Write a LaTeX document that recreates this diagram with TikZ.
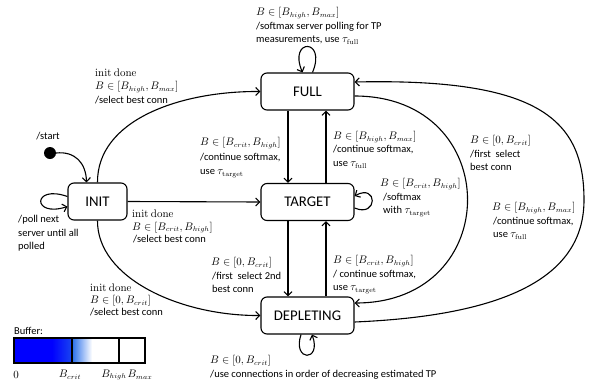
\documentclass[tikz,border=0pt]{standalone}
\usepackage[no-math]{fontspec}
\setmainfont{Carlito}
\usetikzlibrary{arrows.meta,calc}
\begin{document}
\begin{tikzpicture}[x=1pt,y=-1pt,
  state/.style={draw,rounded corners=6pt,line width=1.1pt,minimum width=93pt,minimum height=37pt,font=\fontsize{14.8}{16}\selectfont,inner sep=0pt},
  arr/.style={line width=1.1pt,-{Straight Barb[length=4pt,width=8pt]}},
  lbl/.style={anchor=north west,inner sep=0pt,align=left,font=\fontsize{10.5}{13.5}\selectfont},
  sm/.style={inner sep=0pt,font=\fontsize{10.5}{13.5}\selectfont}]
\useasboundingbox (0,0) rectangle (592,383);

% states
\node[state] (full) at (307.5,91.5) {FULL};
\node[state] (target) at (307.5,202) {TARGET};
\node[state] (depl) at (307.5,315.5) {DEPLETING};
\node[state,minimum width=59pt] (init) at (97.5,201.5) {INIT};
\node[circle,fill,inner sep=0pt,minimum size=12pt] (start) at (50,153) {};
\coordinate (r) at (584,200);

% start
\draw[arr] (start.east) .. controls (75,151) and (86,163) .. ($(init.north)+(-11,0)$);
% init transitions
\draw[arr] (init.north) .. controls (97,120) and (180,91) .. (full.west);
\draw[arr] (init.east) -- (target.west);
\draw[arr] (init.south) .. controls (97,278) and (180,316) .. (depl.west);
% verticals
\draw[arr] ($(full.south)+(-19.5,0)$) -- ($(target.north)+(-19.5,0)$);
\draw[arr] ($(target.north)+(18.5,0)$) -- ($(full.south)+(18.5,0)$);
\draw[arr] ($(target.south)+(-19.5,0)$) -- ($(depl.north)+(-19.5,0)$);
\draw[arr] ($(depl.north)+(18.5,0)$) -- ($(target.south)+(18.5,0)$);
% big curves
\draw[arr] ($(full.east)+(0,4.5)$) .. controls (505,96) and (505,303) .. ($(depl.east)+(0,-12.5)$);
\draw[arr] ($(depl.east)+(0,6.5)$) .. controls (520,315) and (584,270) .. (r)
   .. controls (584,120) and (540,78) .. ($(full.east)+(0,-9.5)$);
% loops
\draw[arr] ($(full.north)+(5,0)$) .. controls (327,38) and (288,38) .. ($(full.north)+(-5,0)$);
\draw[arr] ($(target.east)+(0,6)$) .. controls (378,218) and (378,183) .. ($(target.east)+(0,-6)$);
\draw[arr] ($(depl.south)+(-6.5,0)$) .. controls (292,362) and (322,362) .. ($(depl.south)+(4.5,0)$);
\draw[arr] ($(init.west)+(0,-5)$) .. controls (32,184) and (32,218) .. ($(init.west)+(0,5)$);

% labels
\node[sm] (lstart) at (48,136) {/start};
\node[lbl] (l1) at (256,7.5) {$B\in[B_{high},B_{max}]$\\/softmax server polling for TP\\measurements, use $\tau_{\mathrm{full}}$};
\node[lbl] (l2) at (95,68.5) {$\mathrm{init\ done}$\\$B\in[B_{high},B_{max}]$\\/select best conn};
\node[lbl,font=\fontsize{10.5}{14.5}\selectfont] (l3) at (200,137.5) {$B\in[B_{crit},B_{high}]$\\/continue softmax,\\use $\tau_{\mathrm{target}}$};
\node[lbl] (l4) at (333,131) {$B\in[B_{high},B_{max}]$\\/continue softmax,\\use $\tau_{\mathrm{full}}$};
\node[lbl] (l5) at (380,178.5) {$B\in[B_{crit},B_{high}]$\\\hspace*{3pt}/softmax\\\hspace*{3pt}with $\tau_{\mathrm{target}}$};
\node[lbl,font=\fontsize{10.5}{12.3}\selectfont] (l6) at (132,210) {$\mathrm{init\ done}$\\$B\in[B_{crit},B_{high}]$\\\hspace*{1pt}/select best conn};
\node[lbl] (l7) at (18,215.5) {/poll next\\server until all\\polled};
\node[lbl,font=\fontsize{10.5}{12}\selectfont] (l8) at (90,284) {$\mathrm{init\ done}$\\$B\in[0,B_{crit}]$\\/select best conn};
\node[lbl] (l9) at (211,257.5) {$B\in[0,B_{crit}]$\\\hspace*{1pt}/first\ \ select 2nd\\\hspace*{1pt}best conn};
\node[lbl] (l10) at (333,255.5) {$B\in[B_{crit},B_{high}]$\\/ continue softmax,\\use $\tau_{\mathrm{target}}$};
\node[lbl] (l11) at (470,135.5) {$B\in[0,B_{crit}]$\\/first\ \ select\\best conn};
\node[lbl] (l12) at (492,202.5) {$B\in[B_{high},B_{max}]$\\\hspace*{1pt}/continue softmax,\\\hspace*{1pt}use $\tau_{\mathrm{full}}$};
\node[lbl] (l13) at (210,355.5) {$B\in[0,B_{crit}]$\\/use connections in order of decreasing estimated TP};

% buffer
\node[lbl] (buf) at (14,327) {Buffer:};
\fill[blue] (14,338) rectangle (52,363);
\shade[left color=blue,right color={rgb,255:red,25;green,70;blue,240}] (52,338) rectangle (72,363);
\shade[left color={rgb,255:red,40;green,110;blue,235},right color=white] (72,338) rectangle (92,363);
\draw[line width=1.1pt] (14,338) rectangle (145,363);
\draw[line width=1.1pt] (72,338) -- (72,363) (119,338) -- (119,363);
\node[sm] (b0) at (16,375) {$0$};
\node[sm] (bc) at (70,375) {$B_{crit}$};
\node[sm] (bh) at (114,375) {$B_{high}$};
\node[sm] (bm) at (140,375) {$B_{max}$};
\end{tikzpicture}
\end{document}
